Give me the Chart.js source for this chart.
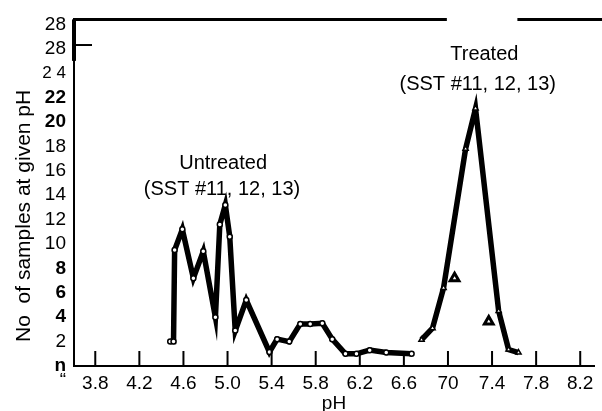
<!DOCTYPE html>
<html>
<head>
<meta charset="utf-8">
<script src="https://cdn.jsdelivr.net/npm/chart.js@4"></script>
<style>
  html, body { margin: 0; padding: 0; background: #fff; }
  #wrap { width: 602px; height: 411px; position: relative; }
</style>
</head>
<body>
<div id="wrap"><canvas id="phChart"></canvas></div>
<script>
// pH distribution of samples, untreated vs treated

const untreatedPH    = [4.48, 4.51, 4.52, 4.59, 4.69, 4.78, 4.89, 4.93, 4.98, 5.02, 5.07, 5.17, 5.38, 5.45, 5.56, 5.66, 5.75, 5.86, 5.95, 6.07, 6.17, 6.29, 6.44, 6.67];
const untreatedCount = [2.0, 2.0, 9.5, 11.2, 7.2, 9.4, 4.0, 11.6, 13.2, 10.6, 2.9, 5.4, 1.15, 2.2, 2.0, 3.45, 3.45, 3.5, 2.2, 1.0, 1.0, 1.3, 1.1, 1.0];

const treatedPH    = [6.76, 6.86, 6.96, 7.16, 7.25, 7.46, 7.55, 7.64];
const treatedCount = [2.15, 3.1, 6.4, 17.8, 21.1, 4.5, 1.35, 1.1];

// loose points off the treated curve
const strayPH    = [7.06, 7.37];
const strayCount = [7.2, 3.65];

const xTickValues = [3.8, 4.2, 4.6, 5.0, 5.4, 5.8, 6.2, 6.6, 7.0, 7.4, 7.8, 8.2];
const xTickLabels = ['3.8', '4.2', '4.6', '5.0', '5.4', '5.8', '6.2', '6.6', '70', '7.4', '7.8', '8.2'];

const yTickValues = [-1.2, 0, 2, 4, 6, 8, 10, 12, 14, 16, 18, 20, 22, 24, 26, 28];
const yTickLabels = ['\u201C', 'n', '2', '4', '6', '8', '10', '12', '14', '16', '18', '20', '22', '2 4', '28', '28'];
const yBoldLabels = ['n', '4', '6', '8', '20', '22'];

const notes  = ['Untreated', '(SST #11, 12, 13)', 'Treated', '(SST #11, 12, 13)'];
const notesX = [4.96, 4.95, 7.33, 7.27];
const notesY = [16.6, 14.5, 25.5, 23.1];

const topFrameGap = [6.99, 7.63];
const FONT = "'Liberation Sans', Arial, Helvetica, sans-serif";

function toPoints(xs, ys) {
    return xs.map((x, i) => ({ x: x, y: ys[i] }));
}

// frame pieces, inner tick marks and the free text
const decorPlugin = {
    id: 'decor',
    afterDraw(chart) {
        const ctx = chart.ctx;
        const xs = chart.scales.x;
        const ys = chart.scales.y;
        const area = chart.chartArea;

        ctx.save();
        ctx.strokeStyle = '#000';
        ctx.lineCap = 'butt';

        // top frame line, broken above the treated peak
        ctx.lineWidth = 3;
        ctx.beginPath();
        ctx.moveTo(area.left, area.top);
        ctx.lineTo(xs.getPixelForValue(topFrameGap[0]), area.top);
        ctx.moveTo(xs.getPixelForValue(topFrameGap[1]), area.top);
        ctx.lineTo(chart.width, area.top);
        ctx.stroke();

        // heavier stub at the top of the y axis plus its short tick
        ctx.lineWidth = 4;
        ctx.beginPath();
        ctx.moveTo(area.left, area.top);
        ctx.lineTo(area.left, ys.getPixelForValue(25));
        ctx.stroke();
        ctx.lineWidth = 2;
        ctx.beginPath();
        ctx.moveTo(area.left, ys.getPixelForValue(26.3));
        ctx.lineTo(area.left + 18, ys.getPixelForValue(26.3));
        ctx.stroke();

        // x ticks point up into the plot
        ctx.lineWidth = 2;
        xTickValues.forEach(v => {
            const px = xs.getPixelForValue(v);
            ctx.beginPath();
            ctx.moveTo(px, area.bottom);
            ctx.lineTo(px, area.bottom - 15);
            ctx.stroke();
        });

        // series captions
        ctx.fillStyle = '#000';
        ctx.textAlign = 'center';
        ctx.textBaseline = 'middle';
        ctx.font = '20px ' + FONT;
        notes.forEach((t, i) => {
            ctx.fillText(t, xs.getPixelForValue(notesX[i]), ys.getPixelForValue(notesY[i]));
        });

        // y axis title
        ctx.translate(24, ys.getPixelForValue(12.3));
        ctx.rotate(-Math.PI / 2);
        ctx.font = '21px ' + FONT;
        ctx.fillText('No  of samples at given pH', 0, 0);
        ctx.restore();
    }
};

const ctx = document.getElementById('phChart');

new Chart(ctx, {
    type: 'line',
    data: {
        datasets: [
            {
                label: 'Untreated',
                data: toPoints(untreatedPH, untreatedCount),
                borderColor: '#000',
                borderWidth: 5.5,
                borderJoinStyle: 'miter',
                tension: 0,
                pointStyle: 'circle',
                pointRadius: 2.5,
                pointBackgroundColor: '#fff',
                pointBorderColor: '#000',
                pointBorderWidth: 1.5
            },
            {
                label: 'Treated',
                data: toPoints(treatedPH, treatedCount),
                borderColor: '#000',
                borderWidth: 5.5,
                borderJoinStyle: 'miter',
                tension: 0,
                pointStyle: 'triangle',
                pointRadius: 3,
                pointBackgroundColor: '#fff',
                pointBorderColor: '#000',
                pointBorderWidth: 1.5
            },
            {
                label: 'Treated (off curve)',
                data: toPoints(strayPH, strayCount),
                showLine: false,
                pointStyle: 'triangle',
                pointRadius: 5,
                pointBackgroundColor: '#fff',
                pointBorderColor: '#000',
                pointBorderWidth: 3
            }
        ]
    },
    options: {
        responsive: true,
        maintainAspectRatio: false,
        animation: false,
        layout: { padding: { top: 14, right: 2, left: 0, bottom: 0 } },
        plugins: {
            legend: { display: false },
            tooltip: { enabled: false }
        },
        scales: {
            x: {
                type: 'linear',
                min: 3.607,
                max: 8.325,
                afterBuildTicks: scale => { scale.ticks = xTickValues.map(v => ({ value: v })); },
                afterFit: scale => { scale.height = 45; },
                grid: { display: false, drawTicks: false },
                border: { display: true, color: '#000', width: 2 },
                ticks: {
                    color: '#000',
                    padding: 6,
                    maxRotation: 0,
                    autoSkip: false,
                    font: { family: FONT, size: 19 },
                    callback: (value, index) => xTickLabels[index]
                },
                title: {
                    display: true,
                    text: 'pH',
                    color: '#000',
                    padding: 0,
                    font: { family: FONT, size: 19, lineHeight: 0.8 }
                }
            },
            y: {
                type: 'linear',
                min: 0,
                max: 28.4,
                afterBuildTicks: scale => { scale.ticks = yTickValues.map(v => ({ value: v })); },
                afterFit: scale => { scale.width = 74; },
                grid: { display: false, drawTicks: false },
                border: { display: true, color: '#000', width: 2 },
                ticks: {
                    color: '#000',
                    padding: 8,
                    autoSkip: false,
                    font: ctx => {
                        const lbl = yTickLabels[ctx.index];
                        return {
                            family: FONT,
                            size: lbl === '2 4' ? 17 : 19,
                            weight: yBoldLabels.includes(lbl) ? 'bold' : 'normal'
                        };
                    },
                    callback: (value, index) => yTickLabels[index]
                }
            }
        }
    },
    plugins: [decorPlugin]
});
</script>
</body>
</html>
